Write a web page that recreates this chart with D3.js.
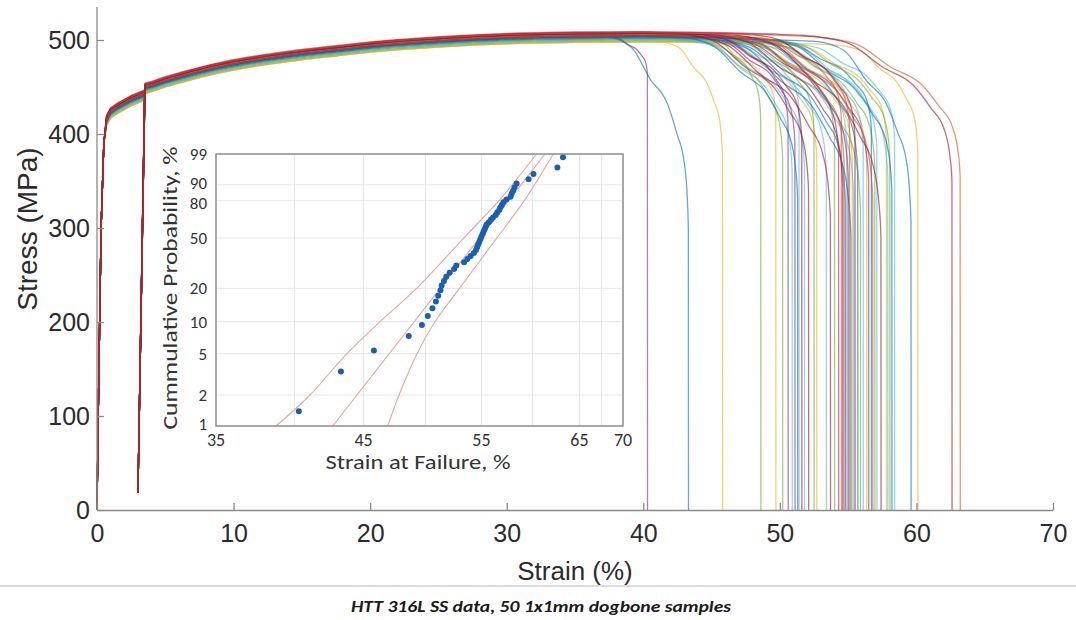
<!DOCTYPE html>
<html>
<head>
<meta charset="utf-8">
<script src="https://cdn.jsdelivr.net/npm/d3@7"></script>
<style>
body { margin: 0; background: #fff; }
svg { display: block; }
.main-axis text { font-family: "Liberation Sans", Arial, sans-serif; font-size: 25px; fill: #2b2b2b; }
.main-axis line, .main-axis path { stroke: #8a8a8a; stroke-width: 1.3; }
.inset-label { font-family: Carlito, Lato, "Open Sans", sans-serif; fill: #333; }
</style>
</head>
<body>
<div id="chart"></div>
<script>
const width = 1076;
const height = 620;

// failure strain of each of the 50 samples, sorted (%)
const failStrain = [40.3, 43.3, 45.8, 48.6, 49.7, 50.2, 50.6, 50.9, 51.1, 51.3,
  51.4, 51.6, 51.8, 52.1, 52.5, 52.7, 53.4, 53.7, 54.0, 54.3,
  54.5, 54.6, 54.7, 54.8, 54.9, 55.0, 55.1, 55.2, 55.3, 55.4,
  55.5, 55.7, 55.9, 56.1, 56.35, 56.5, 56.7, 56.8, 56.95, 57.1,
  57.4, 57.8, 57.9, 58.05, 58.2, 58.4, 59.6, 60.1, 62.6, 63.2];

// stress where the final vertical drop starts (MPa)
const kneeStress = [463, 298, 372, 415, 420, 375, 410, 360, 390, 330,
  425, 395, 365, 340, 405, 375, 360, 310, 395, 380,
  415, 345, 370, 325, 390, 355, 405, 290, 375, 335,
  395, 360, 320, 385, 370, 350, 405, 330, 365, 385,
  290, 395, 355, 375, 340, 395, 305, 380, 350, 355];

// strain span of the softening before failure (%)
const neckLength = [3, 6, 4.5, 4, 6, 7, 6, 8, 7, 9,
  6, 8, 9, 10, 7, 8, 9, 11, 8, 9,
  7, 10, 9, 10, 8, 9, 7, 11, 9, 10,
  8, 9, 10, 8, 9, 10, 8, 10, 9, 9,
  11, 8, 9, 9, 10, 8, 7, 6, 11, 11];

// level of each curve relative to the band centre (MPa)
const levelShift = [1, 0, -5, -1, -4, -2, 2, -3, 0, 1,
  -4, 4, -2, 5, -1, -5, -3, 3, 0, 1,
  2, 4, 3, -1, -3, 1, 2, 0, -4, -2,
  5, 1, -1, -3, -5, 2, 0, 3, -2, -4,
  4, -4, -2, 0, 1, -3, 0, -3, 6, 5];

const colorIndex = [3, 0, 2, 4, 2, 4, 3, 5, 3, 0,
  5, 6, 5, 6, 4, 2, 5, 6, 4, 3,
  1, 6, 1, 0, 5, 3, 1, 0, 2, 5,
  6, 0, 4, 5, 2, 3, 0, 1, 4, 5,
  6, 2, 5, 4, 0, 5, 0, 2, 6, 1];

const palette = ['#0072BD', '#D95319', '#EDB120', '#7E2F8E', '#77AC30', '#4DBEEE', '#A2142F'];

// shared curve shape
const elasticStrain = [0, 0.1, 0.3, 0.5];
const elasticStress = [0, 110, 300, 390];
const hardStrain = [0.7, 1.0, 1.5, 2.0, 2.5, 3.0, 3.5, 4, 5, 6, 7.5, 9, 10, 12.5, 15,
  17.5, 20, 22.5, 25, 27.5, 30, 35, 40, 45, 50, 55, 60, 65];
const hardStress = [414, 422, 427, 431, 435, 438, 448, 450, 455, 459, 465, 470, 473, 479, 484,
  488, 492, 495, 497.5, 499.5, 501, 502.5, 503, 502, 500, 497, 494, 490];
const unloadStrain = [3.5, 3.0, 3.5];
const unloadStress = [441, 19, 448];
const neckFrac = [1, 0.7, 0.46, 0.26, 0.14, 0.05, 0.01, 0];
const neckDrop = [0, 0.05, 0.22, 0.34, 0.5, 0.65, 0.86, 1];

const strainTicks = [0, 10, 20, 30, 40, 50, 60, 70];
const stressTicks = [0, 100, 200, 300, 400, 500];

// inset: Weibull probability plot
const probTicks = [1, 2, 5, 10, 20, 50, 80, 90, 99];
const failTicks = [35, 45, 55, 65, 70];
const failGrid = [40, 45, 50, 55, 60, 65, 67.5];
const fitStrain = [42.7, 61.3];
const fitProb = [1, 99];
const upperStrain = [38.77, 41.08, 43.74, 46.28, 49.25, 53.37, 56.67, 60.42];
const upperProb = [1, 2, 5, 10, 20, 50, 80, 99];
const lowerStrain = [46.89, 47.80, 49.29, 50.82, 52.99, 56.46, 59.17, 62.17];
const lowerProb = [1, 2, 5, 10, 20, 50, 80, 99];

const svg = d3.select('#chart').append('svg')
  .attr('width', width).attr('height', height);

const x = d3.scaleLinear([0, 70], [97, 1053]);
const y = d3.scaleLinear([0, 500], [510, 40]);
const base = d3.scaleLinear(hardStrain, hardStress);

// loading up to the unload/reload loop
function loadPoints(i) {
  const s = levelShift[i];
  const pts = elasticStrain.map((e, k) => [e, elasticStress[k]]);
  hardStrain.forEach((e, k) => { if (e < 3.5) pts.push([e, hardStress[k] + s]); });
  unloadStrain.forEach((e, k) => pts.push([e, unloadStress[k] + (k === 1 ? 0 : s)]));
  return pts;
}

// reloaded hardening, softening and fracture
function tailPoints(i) {
  const f = failStrain[i], L = neckLength[i], s = levelShift[i], knee = kneeStress[i];
  const start = f - L;
  const pts = [];
  hardStrain.forEach((e, k) => { if (e >= 3.5 && e < start) pts.push([e, hardStress[k] + s]); });
  const top = base(start) + s;
  neckFrac.forEach((t, k) => pts.push([f - t * L, top - neckDrop[k] * (top - knee)]));
  pts.push([f + 0.01, 0]);
  return pts;
}

const loadLine = d3.line().x(d => x(d[0])).y(d => y(d[1]));
const tailLine = d3.line().x(d => x(d[0])).y(d => y(d[1])).curve(d3.curveMonotoneX);

const order = d3.range(failStrain.length).sort((a, b) => levelShift[a] - levelShift[b]);
const curves = svg.append('g')
  .attr('fill', 'none')
  .attr('stroke-opacity', 0.62)
  .attr('stroke-width', 1.3)
  .attr('stroke-linejoin', 'round')
  .selectAll('g').data(order).enter().append('g')
  .attr('stroke', i => palette[colorIndex[i]]);
curves.append('path').attr('d', i => loadLine(loadPoints(i)));
curves.append('path').attr('d', i => tailLine(tailPoints(i)));

// main axes
svg.append('g').attr('class', 'main-axis')
  .attr('transform', 'translate(0,510)')
  .call(d3.axisBottom(x).tickValues(strainTicks).tickSize(-7).tickSizeOuter(0).tickPadding(14));

const yAxis = svg.append('g').attr('class', 'main-axis')
  .attr('transform', 'translate(97,0)')
  .call(d3.axisLeft(y).tickValues(stressTicks).tickSize(-7).tickPadding(7));
yAxis.select('.domain').remove();
yAxis.append('line').attr('x1', 0).attr('x2', 0).attr('y1', y(535)).attr('y2', 510);

svg.append('text')
  .attr('transform', 'translate(37,229) rotate(-90)')
  .attr('text-anchor', 'middle')
  .style('font-family', '"Liberation Sans", Arial, sans-serif')
  .style('font-size', '28px').style('fill', '#2b2b2b')
  .text('Stress (MPa)');

svg.append('text')
  .attr('x', 575).attr('y', 580)
  .attr('text-anchor', 'middle')
  .style('font-family', '"Liberation Sans", Arial, sans-serif')
  .style('font-size', '26px').style('fill', '#2b2b2b')
  .text('Strain (%)');

// inset
const weib = p => Math.log(-Math.log(1 - p / 100));
const ix = d3.scaleLog([35, 70], [216, 623]);
const iyw = d3.scaleLinear([weib(1), weib(99)], [426, 154]);
const iy = p => iyw(weib(p));

const inset = svg.append('g');
inset.append('rect')
  .attr('x', ix(35)).attr('y', iy(99))
  .attr('width', ix(70) - ix(35)).attr('height', iy(1) - iy(99))
  .attr('fill', '#fff');

inset.append('g').selectAll('line').data(failGrid).enter().append('line')
  .attr('x1', d => ix(d)).attr('x2', d => ix(d))
  .attr('y1', iy(99)).attr('y2', iy(1))
  .attr('stroke', '#e6e6e6').attr('stroke-width', 1);
inset.append('g').selectAll('line').data(probTicks.slice(1, -1)).enter().append('line')
  .attr('x1', ix(35)).attr('x2', ix(70))
  .attr('y1', d => iy(d)).attr('y2', d => iy(d))
  .attr('stroke', '#e6e6e6').attr('stroke-width', 1);

svg.append('clipPath').attr('id', 'inset-clip').append('rect')
  .attr('x', ix(35)).attr('y', iy(99))
  .attr('width', ix(70) - ix(35)).attr('height', iy(1) - iy(99));

const bandLine = d3.line().curve(d3.curveCatmullRom.alpha(0.5));
const fitGroup = inset.append('g').attr('clip-path', 'url(#inset-clip)')
  .attr('fill', 'none').attr('stroke', '#e9a3a6').attr('stroke-width', 1.1);
fitGroup.append('path').attr('d', bandLine(fitStrain.map((s, k) => [ix(s), iy(fitProb[k])])));
fitGroup.append('path').attr('d', bandLine(upperStrain.map((s, k) => [ix(s), iy(upperProb[k])])));
fitGroup.append('path').attr('d', bandLine(lowerStrain.map((s, k) => [ix(s), iy(lowerProb[k])])));

// median-rank plotting positions of the sorted failure strains
const n = failStrain.length;
inset.append('g').selectAll('circle').data(failStrain).enter().append('circle')
  .attr('cx', d => ix(d))
  .attr('cy', (d, i) => iy((i + 1 - 0.3) / (n + 0.4) * 100))
  .attr('r', 3)
  .attr('fill', '#1b5fae');

inset.append('rect')
  .attr('x', ix(35)).attr('y', iy(99))
  .attr('width', ix(70) - ix(35)).attr('height', iy(1) - iy(99))
  .attr('fill', 'none').attr('stroke', '#8c8c8c').attr('stroke-width', 1.5);

// the 90 and 80 labels sit very close, nudge them apart a little
const labelNudge = { 1: -2, 90: -2, 80: 2 };
inset.append('g').selectAll('text').data(probTicks).enter().append('text')
  .attr('class', 'inset-label')
  .attr('x', 207).attr('y', d => iy(d) + (labelNudge[d] || 0)).attr('dy', '0.36em')
  .attr('text-anchor', 'end')
  .style('font-size', '17px')
  .text(d => d);

inset.append('g').selectAll('text').data(failTicks).enter().append('text')
  .attr('class', 'inset-label')
  .attr('x', d => ix(d)).attr('y', 446)
  .attr('text-anchor', 'middle')
  .style('font-size', '18px')
  .text(d => d);

inset.append('text')
  .attr('class', 'inset-label')
  .attr('transform', 'translate(177,288) rotate(-90)')
  .attr('text-anchor', 'middle')
  .attr('textLength', 283).attr('lengthAdjust', 'spacingAndGlyphs')
  .style('font-size', '20px')
  .text('Cummulative Probability, %');

inset.append('text')
  .attr('class', 'inset-label')
  .attr('x', 418).attr('y', 469)
  .attr('text-anchor', 'middle')
  .attr('textLength', 185).attr('lengthAdjust', 'spacingAndGlyphs')
  .style('font-size', '20px')
  .text('Strain at Failure, %');

// figure frame line and caption
svg.append('line')
  .attr('x1', 0).attr('x2', width).attr('y1', 586).attr('y2', 586)
  .attr('stroke', '#d0d0d0').attr('stroke-width', 1.5);

svg.append('text')
  .attr('x', 541).attr('y', 612)
  .attr('text-anchor', 'middle')
  .attr('textLength', 380).attr('lengthAdjust', 'spacingAndGlyphs')
  .style('font-family', 'Carlito, Lato, "Open Sans", sans-serif')
  .style('font-size', '16px').style('font-weight', 'bold').style('font-style', 'italic')
  .style('fill', '#1a1a1a')
  .text('HTT 316L SS data, 50 1x1mm dogbone samples');
</script>
</body>
</html>
